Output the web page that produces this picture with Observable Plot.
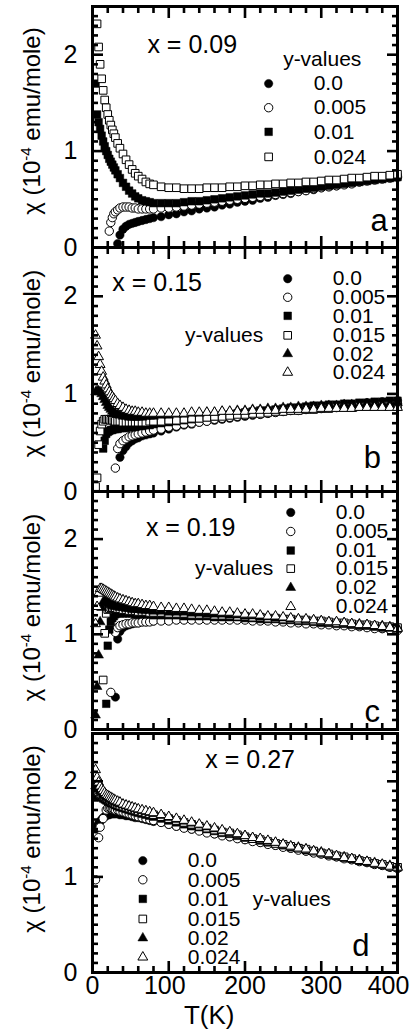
<!DOCTYPE html>
<html><head><meta charset="utf-8">
<script src="https://cdn.jsdelivr.net/npm/d3@7"></script>
<script src="https://cdn.jsdelivr.net/npm/@observablehq/plot@0.6"></script>
<style>
html,body{margin:0;padding:0;background:#fff;}
#chart{width:411px;}
#chart svg{display:block;overflow:visible;}
</style></head><body><div id="chart"></div>
<script>
// Temperature grid (K)
const T_K = [4,6,8,10,12,14,16,18,20,22,24,26,28,30,33,36,40,44,48,52,56,60,65,70,75,80,90,100,110,120,130,140,150,160,170,180,190,200,210,220,230,240,250,260,270,280,290,300,310,320,330,340,350,360,370,380,390,400];

// legend labels (y-values)
const yValuesA = ["0.0","0.005","0.01","0.024"];
const yValuesBCD = ["0.0","0.005","0.01","0.015","0.02","0.024"];
const xValues = ["x = 0.09","x = 0.15","x = 0.19","x = 0.27"];
const panelLetters = ["a","b","c","d"];
const xTicks = [0,100,200,300,400];
const yTicks = [0,1,2];

// ---- panel a (x = 0.09), chi in 1e-4 emu/mole
const a_y0 = [null,null,null,null,null,null,null,null,null,null,null,null,null,null,
 0.04,0.13,0.19,0.22,0.24,0.25,0.26,0.27,0.28,0.29,0.30,0.31,
 0.32,0.34,0.35,0.37,0.38,0.40,0.41,0.42,0.44,0.45,0.47,0.48,0.49,0.51,0.52,0.54,0.55,0.56,0.58,0.59,0.60,0.62,0.63,0.64,0.66,0.67,0.68,0.70,0.71,0.72,0.73,0.74];
const a_y005 = [null,null,null,null,null,null,null,null,null,0.17,0.26,0.31,0.35,0.37,
 0.39,0.41,0.42,0.42,0.42,0.41,0.41,0.40,0.40,0.40,0.40,0.40,
 0.41,0.41,0.42,0.43,0.44,0.45,0.46,0.47,0.48,0.49,0.50,0.51,0.52,0.53,0.54,0.55,0.56,0.57,0.58,0.59,0.61,0.62,0.63,0.64,0.65,0.66,0.68,0.69,0.70,0.71,0.72,0.73];
const a_y01 = [1.70,1.38,1.30,1.23,1.16,1.10,1.05,1.00,0.96,0.92,0.89,0.86,0.83,0.80,
 0.76,0.72,0.67,0.63,0.59,0.56,0.53,0.51,0.49,0.48,0.47,0.46,
 0.46,0.46,0.46,0.47,0.48,0.48,0.49,0.50,0.51,0.52,0.53,0.54,0.55,0.56,0.56,0.57,0.58,0.59,0.60,0.61,0.62,0.63,0.64,0.65,0.66,0.67,0.68,0.69,0.70,0.71,0.72,0.73];
const a_y024 = [null,2.32,2.08,1.90,1.75,1.63,1.53,1.45,1.38,1.32,1.27,1.22,1.18,1.14,
 1.08,1.03,0.97,0.91,0.86,0.81,0.77,0.74,0.71,0.68,0.66,0.65,
 0.63,0.62,0.62,0.61,0.61,0.61,0.62,0.62,0.62,0.63,0.63,0.64,0.64,0.65,0.65,0.66,0.66,0.67,0.67,0.68,0.68,0.69,0.70,0.70,0.71,0.72,0.72,0.73,0.74,0.74,0.75,0.76];

// ---- panel b (x = 0.15)
const b_y0 = [null,null,null,null,null,null,null,null,null,null,null,null,null,null,
 null,0.35,0.42,0.46,0.50,0.52,0.54,0.55,0.57,0.58,0.59,0.60,
 0.62,0.64,0.66,0.68,0.69,0.71,0.72,0.73,0.74,0.75,0.76,0.77,0.78,0.79,0.80,0.81,0.82,0.83,0.84,0.85,0.86,0.87,0.87,0.88,0.89,0.89,0.90,0.91,0.91,0.92,0.92,0.93];
const b_y005 = [null,null,null,null,null,null,null,null,null,null,null,null,null,0.24,
 0.44,0.49,0.52,0.54,0.56,0.57,0.58,0.59,0.60,0.61,0.62,0.63,
 0.64,0.66,0.67,0.69,0.70,0.71,0.72,0.74,0.75,0.76,0.77,0.78,0.79,0.79,0.80,0.81,0.82,0.83,0.83,0.84,0.85,0.85,0.86,0.86,0.87,0.87,0.88,0.88,0.89,0.89,0.90,0.90];
const b_y01 = [null,null,null,null,null,0.44,0.52,0.59,0.61,0.62,0.63,0.63,0.64,0.64,
 0.64,0.65,0.65,0.65,0.66,0.66,0.66,0.67,0.67,0.68,0.68,0.69,
 0.70,0.71,0.72,0.73,0.74,0.75,0.76,0.77,0.78,0.79,0.80,0.81,0.82,0.83,0.83,0.84,0.85,0.86,0.86,0.87,0.88,0.88,0.89,0.89,0.90,0.90,0.91,0.91,0.92,0.92,0.93,0.93];
const b_y015 = [0.05,0.14,0.48,0.62,0.69,0.72,0.74,0.74,0.74,0.74,0.73,0.73,0.73,0.72,
 0.72,0.72,0.71,0.71,0.71,0.71,0.71,0.71,0.71,0.71,0.72,0.72,
 0.72,0.73,0.73,0.74,0.75,0.75,0.76,0.77,0.77,0.78,0.79,0.79,0.80,0.80,0.81,0.82,0.82,0.83,0.83,0.84,0.84,0.85,0.85,0.86,0.86,0.86,0.87,0.87,0.87,0.88,0.88,0.88];
const b_y02 = [1.02,1.03,1.03,1.02,1.00,0.97,0.94,0.91,0.88,0.86,0.84,0.82,0.81,0.80,
 0.79,0.78,0.77,0.77,0.76,0.76,0.76,0.76,0.76,0.77,0.77,0.77,
 0.78,0.78,0.79,0.79,0.80,0.80,0.81,0.81,0.82,0.82,0.83,0.83,0.84,0.84,0.85,0.85,0.86,0.86,0.87,0.87,0.87,0.88,0.88,0.88,0.89,0.89,0.89,0.90,0.90,0.90,0.90,0.91];
const b_y024 = [1.60,1.49,1.38,1.30,1.23,1.17,1.13,1.09,1.05,1.02,0.99,0.97,0.95,0.93,
 0.90,0.88,0.86,0.84,0.83,0.82,0.82,0.81,0.81,0.80,0.80,0.80,
 0.80,0.80,0.80,0.80,0.81,0.81,0.81,0.81,0.82,0.82,0.82,0.82,0.83,0.83,0.83,0.83,0.84,0.84,0.84,0.84,0.84,0.85,0.85,0.85,0.85,0.85,0.86,0.86,0.86,0.86,0.86,0.86];

// ---- panel c (x = 0.19)
const c_y0 = [null,null,null,null,null,null,null,null,null,null,null,null,null,0.34,
 0.95,1.03,1.07,1.09,1.10,1.11,1.12,1.12,1.13,1.13,1.14,1.14,
 1.15,1.15,1.16,1.16,1.16,1.17,1.17,1.17,1.17,1.17,1.17,1.17,1.16,1.16,1.16,1.15,1.15,1.14,1.14,1.13,1.13,1.12,1.11,1.11,1.10,1.09,1.09,1.08,1.07,1.06,1.05,1.05];
const c_y005 = [null,null,null,null,null,null,null,null,null,null,0.39,null,null,1.02,
 1.07,1.09,1.10,1.11,1.11,1.12,1.12,1.12,1.13,1.13,1.13,1.14,
 1.14,1.14,1.15,1.15,1.15,1.15,1.15,1.15,1.15,1.15,1.15,1.15,1.14,1.14,1.14,1.13,1.13,1.12,1.12,1.11,1.11,1.10,1.10,1.09,1.09,1.08,1.08,1.07,1.06,1.06,1.05,1.04];
const c_y01 = [null,null,null,null,null,null,null,0.27,0.88,1.05,1.13,1.17,1.19,1.21,
 1.22,1.22,1.22,1.22,1.22,1.22,1.21,1.21,1.21,1.21,1.21,1.20,
 1.20,1.20,1.20,1.19,1.19,1.19,1.19,1.18,1.18,1.18,1.18,1.17,1.17,1.16,1.16,1.16,1.15,1.15,1.14,1.14,1.13,1.12,1.12,1.11,1.11,1.10,1.09,1.09,1.08,1.07,1.07,1.06];
const c_y015 = [null,null,null,null,null,0.52,1.01,1.22,1.26,1.27,1.28,1.28,1.28,1.28,
 1.27,1.27,1.26,1.26,1.25,1.25,1.25,1.24,1.24,1.24,1.23,1.23,
 1.23,1.22,1.22,1.22,1.21,1.21,1.21,1.20,1.20,1.20,1.19,1.19,1.18,1.18,1.17,1.17,1.16,1.16,1.15,1.15,1.14,1.14,1.13,1.12,1.12,1.11,1.10,1.10,1.09,1.08,1.08,1.07];
const c_y02 = [0.15,0.45,0.78,1.13,1.28,1.34,1.35,1.34,1.33,1.32,1.31,1.30,1.30,1.29,
 1.29,1.28,1.28,1.27,1.27,1.26,1.26,1.26,1.25,1.25,1.25,1.24,
 1.24,1.23,1.23,1.23,1.22,1.22,1.21,1.21,1.21,1.20,1.20,1.19,1.19,1.18,1.18,1.17,1.17,1.16,1.16,1.15,1.15,1.14,1.13,1.13,1.12,1.11,1.11,1.10,1.09,1.09,1.08,1.07];
const c_y024 = [1.11,1.29,1.43,1.48,1.48,1.47,1.46,1.45,1.44,1.43,1.42,1.41,1.40,1.39,
 1.38,1.37,1.36,1.35,1.34,1.33,1.32,1.32,1.31,1.30,1.30,1.29,
 1.28,1.28,1.27,1.27,1.26,1.25,1.25,1.24,1.23,1.23,1.22,1.21,1.21,1.20,1.19,1.19,1.18,1.17,1.16,1.16,1.15,1.14,1.13,1.13,1.12,1.11,1.10,1.10,1.09,1.08,1.07,1.06];

// ---- panel d (x = 0.27)
const d_y0 = [1.50,1.53,1.56,1.58,1.60,1.62,1.63,1.64,1.65,1.65,1.66,1.66,1.66,1.66,
 1.66,1.65,1.65,1.64,1.64,1.63,1.62,1.62,1.61,1.60,1.59,1.58,
 1.57,1.55,1.53,1.52,1.50,1.49,1.47,1.45,1.44,1.42,1.41,1.39,1.38,1.36,1.35,1.33,1.32,1.30,1.29,1.27,1.26,1.24,1.23,1.21,1.20,1.18,1.17,1.15,1.14,1.12,1.11,1.09];
const d_y005 = [0.97,null,1.41,1.52,null,1.61,null,1.70,1.72,1.72,1.72,1.71,1.71,1.70,
 1.70,1.69,1.68,1.67,1.66,1.65,1.64,1.63,1.62,1.61,1.60,1.59,
 1.57,1.55,1.53,1.51,1.50,1.48,1.46,1.45,1.43,1.42,1.40,1.39,1.37,1.36,1.34,1.33,1.31,1.30,1.28,1.27,1.25,1.24,1.22,1.21,1.19,1.18,1.16,1.15,1.13,1.12,1.10,1.09];
const d_y01 = [1.85,1.86,1.85,1.84,1.83,1.82,1.81,1.80,1.79,1.78,1.77,1.77,1.76,1.75,
 1.74,1.73,1.72,1.71,1.70,1.69,1.68,1.67,1.66,1.65,1.64,1.63,
 1.61,1.59,1.57,1.55,1.53,1.52,1.50,1.48,1.46,1.45,1.43,1.41,1.40,1.38,1.36,1.35,1.33,1.31,1.30,1.28,1.27,1.25,1.23,1.22,1.20,1.19,1.17,1.16,1.14,1.13,1.11,1.10];
const d_y015 = [1.90,1.90,1.89,1.87,1.86,1.85,1.84,1.83,1.82,1.81,1.80,1.79,1.78,1.77,
 1.76,1.75,1.74,1.73,1.72,1.71,1.70,1.69,1.68,1.67,1.66,1.65,
 1.63,1.61,1.59,1.57,1.55,1.53,1.51,1.49,1.47,1.46,1.44,1.42,1.40,1.39,1.37,1.35,1.34,1.32,1.30,1.29,1.27,1.25,1.24,1.22,1.21,1.19,1.17,1.16,1.14,1.13,1.11,1.10];
const d_y02 = [1.95,1.94,1.92,1.90,1.88,1.86,1.85,1.84,1.83,1.82,1.81,1.80,1.79,1.78,
 1.77,1.76,1.75,1.74,1.73,1.72,1.71,1.70,1.69,1.68,1.67,1.66,
 1.64,1.62,1.60,1.58,1.56,1.54,1.52,1.50,1.48,1.46,1.44,1.43,1.41,1.39,1.37,1.36,1.34,1.32,1.31,1.29,1.27,1.26,1.24,1.22,1.21,1.19,1.18,1.16,1.15,1.13,1.12,1.10];
const d_y024 = [2.12,2.04,1.99,1.95,1.92,1.90,1.88,1.86,1.85,1.84,1.83,1.82,1.81,1.80,
 1.79,1.78,1.76,1.75,1.74,1.73,1.72,1.71,1.70,1.69,1.68,1.67,
 1.65,1.63,1.61,1.59,1.57,1.55,1.53,1.51,1.49,1.47,1.45,1.43,1.41,1.40,1.38,1.36,1.34,1.32,1.30,1.29,1.27,1.25,1.24,1.22,1.20,1.19,1.17,1.16,1.14,1.13,1.11,1.10];

// marker styles, in legend order
const STYLES = [
  {symbol: "circle", fill: "black"},
  {symbol: "circle", fill: "white"},
  {symbol: "square", fill: "black"},
  {symbol: "square", fill: "white"},
  {symbol: "triangle2", fill: "black"},
  {symbol: "triangle2", fill: "white"}
];
const RADIUS = {circle: 4.2, square: 4.3, triangle2: 4.7};

const panels = [
  {series: [a_y0, a_y005, a_y01, a_y024], labels: yValuesA, height: 247, mt: 6, mb: 0,
   xl: [72, 2.10], yv: [250, 1.95, "start"], legSym: 231, legTxt: 290, rows: [1.70, 1.45, 1.20, 0.94],
   letter: [376, 0.27], ylabDy: -6},
  {series: [b_y0, b_y005, b_y01, b_y015, b_y02, b_y024], labels: yValuesBCD, height: 244, mt: 0, mb: 0,
   xl: [26, 2.14], yv: [224, 1.60, "end"], legSym: 256, legTxt: 315, rows: [2.18, 1.99, 1.80, 1.60, 1.41, 1.22],
   letter: [367, 0.34], ylabDy: -6},
  {series: [c_y0, c_y005, c_y01, c_y015, c_y02, c_y024], labels: yValuesBCD, height: 238, mt: 0, mb: 0,
   xl: [70, 2.12], yv: [237, 1.69, "end"], legSym: 260, legTxt: 319, rows: [2.28, 2.08, 1.88, 1.69, 1.49, 1.29],
   letter: [367, 0.18], ylabDy: -3},
  {series: [d_y0, d_y005, d_y01, d_y015, d_y02, d_y024], labels: yValuesBCD, height: 303, mt: 4, mb: 60,
   xl: [148, 2.22], yv: [210, 0.77, "start"], legSym: 66, legTxt: 125, rows: [1.17, 0.97, 0.77, 0.56, 0.36, 0.16],
   letter: [352, 0.28], ylabDy: -14, xAxis: true}
];

const YLAB = "χ (10-4 emu/mole)";
const FONT = "'Liberation Sans', Arial, Helvetica, sans-serif";

function txt(s, T, chi, opts) {
  return Plot.text([{s, T, chi}], {x: "T", y: "chi", text: "s", fill: "black", lineAnchor: "middle", ...opts});
}
function dotMark(data, st) {
  return Plot.dot(data, {x: "T", y: "chi", symbol: st.symbol, r: RADIUS[st.symbol],
    fill: st.fill, stroke: "black", strokeWidth: st.fill === "white" ? 1 : 0.5});
}

function frameTicks() {
  const xMin = d3.range(20, 400, 20).filter(v => v % 100 !== 0);
  const yMin = d3.range(1, 25).filter(i => i % 10 !== 0).map(i => i / 10);
  const tk = {fill: "none", strokeWidth: 2.6, label: null};
  return [
    Plot.axisX(xTicks, {...tk, anchor: "bottom", tickSize: -11}),
    Plot.axisX(xTicks, {...tk, anchor: "top", tickSize: -11}),
    Plot.axisX(xMin, {...tk, anchor: "bottom", tickSize: -6}),
    Plot.axisX(xMin, {...tk, anchor: "top", tickSize: -6}),
    Plot.axisY(yTicks, {...tk, anchor: "left", tickSize: -11}),
    Plot.axisY(yTicks, {...tk, anchor: "right", tickSize: -11}),
    Plot.axisY(yMin, {...tk, anchor: "left", tickSize: -6}),
    Plot.axisY(yMin, {...tk, anchor: "right", tickSize: -6}),
    Plot.frame({stroke: "black", strokeWidth: 3})
  ];
}

const fmt = d => String(d);
const root = document.getElementById("chart");
panels.forEach((p, k) => {
  const marks = [];
  p.series.forEach((vals, i) => {
    const rows = T_K.map((t, j) => ({T: t, chi: vals[j]})).filter(d => d.chi != null);
    marks.push(dotMark(rows, STYLES[i]));
  });
  marks.push(...frameTicks());
  marks.push(Plot.axisY(yTicks, {anchor: "left", tickSize: 0, tickPadding: 15, fontSize: 25, label: null, tickFormat: fmt}));
  if (p.xAxis) {
    const ax = {anchor: "bottom", tickSize: 0, tickPadding: 4, fontSize: 25, label: null, tickFormat: fmt};
    marks.push(Plot.axisX([0, 200, 300], ax));
    marks.push(Plot.axisX([100], {...ax, dx: -4}));
    marks.push(Plot.axisX([400], {...ax, dx: -9}));
    marks.push(Plot.text(["T(K)"], {x: () => 153, frameAnchor: "bottom", dy: 43, fontSize: 26, textAnchor: "middle", lineAnchor: "middle", fill: "black"}));
  }
  // y axis title
  marks.push(Plot.text([YLAB], {frameAnchor: "left", dx: -60, dy: p.ylabDy, rotate: -90, fontSize: 24, fill: "black", textAnchor: "middle", lineAnchor: "middle"}));
  // annotations
  marks.push(txt(xValues[k], p.xl[0], p.xl[1], {fontSize: 25, textAnchor: "start"}));
  marks.push(txt("y-values", p.yv[0], p.yv[1], {fontSize: 21, textAnchor: p.yv[2]}));
  marks.push(txt(panelLetters[k], p.letter[0], p.letter[1], {fontSize: 31, textAnchor: "middle"}));
  p.labels.forEach((lab, i) => {
    marks.push(dotMark([{T: p.legSym, chi: p.rows[i]}], STYLES[i]));
    marks.push(txt(lab, p.legTxt, p.rows[i], {fontSize: 21, textAnchor: "start"}));
  });

  const svg = Plot.plot({
    width: 411, height: p.height,
    marginLeft: 92, marginRight: 14, marginTop: p.mt, marginBottom: p.mb,
    x: {domain: [0, 400]}, y: {domain: [0, 2.5]},
    style: {fontFamily: FONT, background: "transparent", overflow: "visible", color: "black"},
    marks
  });
  d3.select(svg).selectAll("text").filter(function() { return this.textContent === YLAB; }).each(function() {
    const t = d3.select(this);
    t.text(null);
    t.append("tspan").text("χ (10");
    t.append("tspan").attr("dy", -9).attr("font-size", 15).text("-4");
    t.append("tspan").attr("dy", 9).text(" emu/mole)");
  });
  root.appendChild(svg);
});
</script>
</body></html>
